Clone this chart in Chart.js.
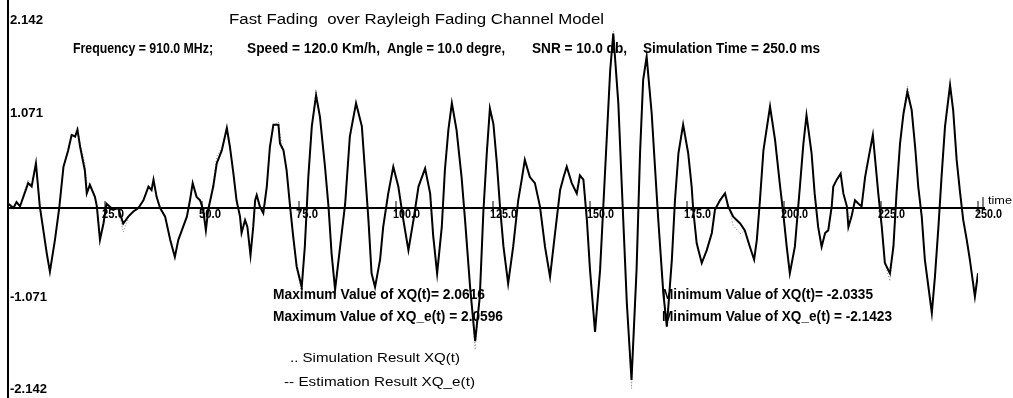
<!DOCTYPE html>
<html>
<head>
<meta charset="utf-8">
<script src="https://cdn.jsdelivr.net/npm/chart.js@4.4.1/dist/chart.umd.min.js"></script>
<style>
  html, body { margin: 0; padding: 0; background: #fff; }
  canvas { display: block; }
</style>
</head>
<body>
<canvas id="chart" width="1013" height="398"></canvas>
<script>
// time axis (ms) and the two traces
const time = [
  0.1,1.4,2.2,3.1,5.2,6.1,7.2,8.2,10.0,10.8,
  12.1,13.2,14.3,15.5,16.4,17.3,17.9,18.6,19.8,20.3,
  21.1,22.4,22.9,23.7,24.6,25.4,27.1,28.4,29.7,31.0,
  32.3,33.6,34.9,36.2,37.0,37.5,38.3,39.2,40.5,41.8,
  43.0,43.9,44.8,46.1,46.9,47.6,48.6,49.5,50.3,51.0,
  51.6,52.9,53.8,55.1,56.4,57.2,58.1,58.9,59.8,60.2,
  61.1,61.7,62.5,63.2,63.7,64.1,64.9,65.8,66.7,67.5,
  68.4,69.7,70.1,71.0,71.8,72.7,73.5,74.4,75.7,76.5,
  77.4,78.3,79.4,80.4,81.7,82.6,83.4,84.3,85.6,86.9,
  88.1,89.7,91.2,92.0,92.9,93.7,94.6,95.9,96.7,98.0,
  99.3,100.6,101.9,103.2,104.5,105.8,107.5,108.8,109.6,110.6,
  111.8,112.6,113.5,114.4,115.6,116.9,117.8,119.1,120.4,121.6,
  122.5,123.4,124.2,125.1,126.0,126.8,127.7,128.9,130.2,131.5,
  132.4,133.2,134.5,135.8,137.1,138.4,139.7,141.0,142.3,143.2,
  144.0,145.3,146.6,147.4,148.3,149.2,150.0,151.3,152.6,153.9,
  155.2,156.0,157.3,158.2,159.5,160.7,162.0,162.9,163.7,164.6,
  165.9,166.8,167.6,168.9,169.8,171.1,171.9,172.8,174.0,175.3,
  176.2,176.6,177.5,178.8,180.1,181.4,182.2,183.5,184.8,185.6,
  186.9,188.7,189.9,191.2,192.3,193.0,193.8,194.7,196.4,197.7,
  199.0,199.8,200.7,201.5,202.8,204.1,205.0,205.8,207.1,207.9,
  208.8,209.7,210.6,211.4,212.3,212.7,213.6,214.6,215.3,216.2,
  216.6,217.4,218.3,219.2,220.0,220.9,221.7,222.9,223.5,224.3,
  225.2,226.0,227.3,228.2,229.0,229.9,230.8,231.8,232.9,233.8,
  234.6,235.5,236.3,238.1,238.9,239.8,240.6,241.5,242.8,243.6,
  244.5,245.4,246.2,247.1,247.9,249.2,250.0
];

// XQ_e(t), solid trace
const estimation = [
  0.05,0.00,0.07,0.02,0.29,0.25,0.52,0.02,-0.53,-0.74,
  -0.37,0.00,0.48,0.67,0.85,0.83,0.91,0.71,0.44,0.17,
  0.27,0.13,0.02,-0.37,-0.18,0.05,-0.02,0.00,-0.18,-0.10,
  -0.04,0.00,0.09,0.25,0.21,0.33,0.13,0.00,-0.10,-0.37,
  -0.57,-0.37,-0.26,-0.10,0.09,0.29,0.13,0.09,-0.02,-0.26,
  -0.02,0.25,0.52,0.67,0.93,0.71,0.40,0.09,-0.10,-0.29,
  -0.14,-0.22,-0.55,-0.22,0.09,0.15,0.02,-0.06,0.25,0.71,
  0.97,0.97,0.75,0.67,0.44,0.02,-0.33,-0.68,-0.92,-0.45,
  0.36,0.95,1.31,1.06,0.48,0.02,-0.53,-0.95,-0.45,0.05,
  0.83,1.22,0.95,0.44,-0.14,-0.76,-0.92,-0.60,-0.22,0.17,
  0.48,0.25,-0.14,-0.49,-0.14,0.25,0.46,0.17,-0.33,-0.76,
  -0.22,0.44,0.91,1.22,0.91,0.36,-0.14,-0.92,-1.55,-1.03,
  -0.06,0.64,1.16,0.98,0.52,0.02,-0.45,-0.88,-0.45,0.09,
  0.33,0.56,0.36,0.29,0.02,-0.45,-0.80,-0.29,0.21,0.36,
  0.48,0.29,0.17,0.38,0.33,-0.14,-0.72,-1.44,-0.72,0.44,
  1.60,2.03,1.22,0.25,-1.11,-2.00,-0.72,0.64,1.49,1.76,
  1.10,0.44,-0.14,-0.99,-1.38,-0.60,0.09,0.64,0.97,0.64,
  0.25,-0.02,-0.41,-0.64,-0.49,-0.29,-0.02,0.09,0.17,0.02,
  -0.10,-0.18,-0.26,-0.45,-0.60,-0.37,0.09,0.67,1.18,0.79,
  0.25,-0.06,-0.45,-0.76,-0.45,0.25,0.75,1.08,0.64,0.17,
  -0.22,-0.45,-0.29,-0.26,0.02,0.25,0.33,0.40,0.17,0.02,
  -0.22,-0.10,0.09,0.05,0.02,0.36,0.56,0.85,0.56,0.17,
  -0.22,-0.64,-0.76,-0.45,0.17,0.75,1.10,1.35,1.14,0.71,
  0.25,-0.10,-0.60,-1.22,-0.80,-0.22,0.36,0.95,1.43,1.14,
  0.56,0.17,-0.14,-0.37,-0.60,-1.03,-0.76
];

// XQ(t), faint dotted trace
const simulation = [
  0.05,0.00,0.07,0.02,0.33,0.27,0.52,0.02,-0.53,-0.74,
  -0.37,0.00,0.48,0.67,0.85,0.85,0.95,0.74,0.52,0.30,
  0.27,0.13,0.02,-0.37,-0.22,0.05,-0.02,0.00,-0.28,-0.12,
  -0.04,0.00,0.09,0.25,0.23,0.33,0.13,0.00,-0.10,-0.37,
  -0.57,-0.37,-0.26,-0.10,0.09,0.29,0.13,0.09,-0.02,-0.12,
  -0.02,0.28,0.60,0.70,0.93,0.71,0.40,0.09,-0.10,-0.20,
  -0.14,-0.22,-0.55,-0.22,0.09,0.15,0.02,-0.06,0.25,0.71,
  0.97,1.00,0.85,0.67,0.44,0.02,-0.33,-0.70,-0.98,-0.45,
  0.36,0.95,1.35,1.06,0.48,0.02,-0.53,-0.95,-0.45,0.05,
  0.83,1.22,0.95,0.44,-0.14,-0.76,-0.92,-0.60,-0.22,0.17,
  0.48,0.25,-0.14,-0.49,-0.14,0.25,0.46,0.17,-0.33,-0.76,
  -0.22,0.44,0.91,1.22,0.91,0.36,-0.14,-0.92,-1.65,-1.03,
  -0.06,0.64,1.16,0.98,0.52,0.02,-0.45,-0.88,-0.45,0.09,
  0.33,0.56,0.36,0.29,0.02,-0.45,-0.80,-0.29,0.21,0.36,
  0.48,0.29,0.17,0.38,0.33,-0.14,-0.72,-1.44,-0.72,0.44,
  1.60,2.06,1.22,0.25,-1.11,-2.10,-0.72,0.64,1.49,1.76,
  1.10,0.44,-0.14,-0.99,-1.38,-0.60,0.09,0.64,0.97,0.64,
  0.25,-0.02,-0.41,-0.64,-0.49,-0.29,-0.02,0.09,0.17,0.05,
  -0.20,-0.30,-0.26,-0.45,-0.60,-0.37,0.09,0.67,1.18,0.79,
  0.25,-0.06,-0.45,-0.76,-0.45,0.25,0.75,1.08,0.64,0.17,
  -0.22,-0.45,-0.29,-0.26,0.02,0.25,0.33,0.40,0.17,0.02,
  -0.10,-0.10,0.09,0.05,0.02,0.36,0.56,0.85,0.56,0.17,
  -0.22,-0.64,-0.85,-0.45,0.17,0.75,1.10,1.42,1.14,0.71,
  0.25,-0.10,-0.60,-1.22,-0.80,-0.22,0.36,0.95,1.46,1.14,
  0.56,0.17,-0.14,-0.37,-0.60,-0.97,-0.76
];

const xTicks = [25, 50, 75, 100, 125, 150, 175, 200, 225, 250];
const yTicks = [2.142, 1.071, -1.071, -2.142];

const title = "Fast Fading  over Rayleigh Fading Channel Model";
const params = [
  "Frequency = 910.0 MHz;",
  "Speed = 120.0 Km/h,",
  "Angle = 10.0 degre,",
  "SNR = 10.0 db,",
  "Simulation Time = 250.0 ms"
];
const maxLines = ["Maximum Value of XQ(t)= 2.0616", "Maximum Value of XQ_e(t) = 2.0596"];
const minLines = ["Minimum Value of XQ(t)= -2.0335", "Minimum Value of XQ_e(t) = -2.1423"];

const toPoints = (vals) => vals.map((v, i) => ({ x: time[i], y: v }));

// squeeze text into a given width, the original uses a narrow face
function fitText(ctx, text, x, y, w, font) {
  ctx.font = font;
  const m = ctx.measureText(text).width;
  ctx.save();
  ctx.translate(x, y);
  ctx.scale(w / m, 1);
  ctx.textAlign = "left";
  ctx.textBaseline = "middle";
  ctx.fillText(text, 0, 0);
  ctx.restore();
}

const axesPlugin = {
  id: "axesPlugin",
  beforeDatasetsDraw(chart) {
    const { ctx, scales: { x, y } } = chart;
    const x0 = x.getPixelForValue(0);
    const y0 = y.getPixelForValue(0);
    ctx.save();
    ctx.strokeStyle = "#000";
    ctx.lineWidth = 2;
    ctx.beginPath();
    ctx.moveTo(x0, 0);
    ctx.lineTo(x0, chart.height);
    ctx.moveTo(x0, y0);
    ctx.lineTo(x.right + 7, y0);
    ctx.stroke();
    // little ticks on the time axis
    ctx.lineWidth = 1;
    xTicks.forEach((t) => {
      const px = x.getPixelForValue(t);
      ctx.beginPath();
      ctx.moveTo(px, y0 - 7);
      ctx.lineTo(px, y0 + 5);
      ctx.stroke();
    });
    ctx.beginPath();
    ctx.moveTo(x.right + 5, y0 - 11);
    ctx.lineTo(x.right + 5, y0);
    ctx.stroke();
    ctx.restore();
  },
  afterDraw(chart) {
    const { ctx, scales: { x, y } } = chart;
    const x0 = x.getPixelForValue(0);
    const y0 = y.getPixelForValue(0);
    ctx.save();
    ctx.fillStyle = "#000";

    // tick labels
    xTicks.forEach((t) => {
      const s = t.toFixed(1);
      const px = x.getPixelForValue(t);
      fitText(ctx, s, px - 3, y0 + 7, s.length > 4 ? 27 : 22, "bold 12px 'Liberation Sans'");
    });
    fitText(ctx, "time", x.right + 10, y0 - 7, 24, "11px 'Liberation Sans'");
    yTicks.forEach((v) => {
      const s = v < 0 ? "-" + Math.abs(v).toFixed(3) : v.toFixed(3);
      const py = y.getPixelForValue(v);
      fitText(ctx, s, x0 + 2, py - 3, v < 0 ? 37 : 33, "bold 13px 'Liberation Sans'");
    });

    // titles
    fitText(ctx, title, 229, 20, 375, "14px 'Liberation Sans'");
    const px = [73, 247, 387, 532, 643];
    const pw = [140, 133, 118, 95, 177];
    params.forEach((s, i) => fitText(ctx, s, px[i], 49, pw[i], "bold 14px 'Liberation Sans'"));

    // max / min readouts
    fitText(ctx, maxLines[0], 273, 295, 212, "bold 14px 'Liberation Sans'");
    fitText(ctx, maxLines[1], 273, 317, 230, "bold 14px 'Liberation Sans'");
    fitText(ctx, minLines[0], 662, 295, 211, "bold 14px 'Liberation Sans'");
    fitText(ctx, minLines[1], 662, 317, 230, "bold 14px 'Liberation Sans'");

    // legend as plain text
    const ds = chart.data.datasets;
    fitText(ctx, ".. " + ds[1].label, 290, 358, 170, "13px 'Liberation Sans'");
    fitText(ctx, "-- " + ds[0].label, 284, 382, 191, "13px 'Liberation Sans'");
    ctx.restore();
  }
};

new Chart(document.getElementById("chart"), {
  type: "line",
  data: {
    datasets: [
      {
        label: "Estimation Result XQ_e(t)",
        data: toPoints(estimation),
        borderColor: "#000",
        borderWidth: 2,
        pointRadius: 0,
        tension: 0
      },
      {
        label: "Simulation Result XQ(t)",
        data: toPoints(simulation),
        borderColor: "#888",
        borderWidth: 1,
        borderDash: [1, 2],
        pointRadius: 0,
        tension: 0
      }
    ]
  },
  options: {
    responsive: false,
    animation: false,
    layout: { padding: { left: 8, right: 35, top: 0, bottom: 0 } },
    scales: {
      x: { type: "linear", min: 0, max: 250, display: false },
      y: { min: -2.21, max: 2.42, display: false }
    },
    plugins: {
      legend: { display: false },
      tooltip: { enabled: false }
    }
  },
  plugins: [axesPlugin]
});
</script>
</body>
</html>
